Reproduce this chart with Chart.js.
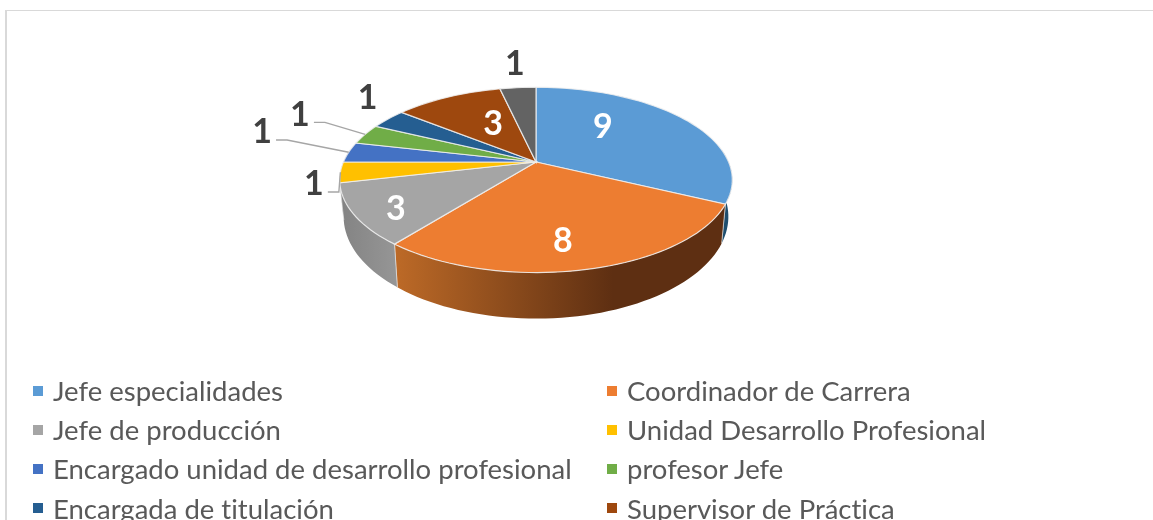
<!DOCTYPE html>
<html lang="es">
<head>
<meta charset="utf-8">
<title>Cargos</title>
<script src="https://cdn.jsdelivr.net/npm/chart.js@4"></script>
<style>
  html, body { margin: 0; padding: 0; background: #fff; width: 1153px; height: 520px; overflow: hidden; }
  #frame { position: absolute; left: 5px; top: 10px; right: 0; height: 520px; border-top: 1px solid #d9d9d9; border-left: 2px solid #d9d9d9; }
  #chart { position: absolute; left: 0; top: 0; }
  #legend { position: absolute; left: 33px; top: 371px; display: grid; grid-template-columns: 574px 500px; grid-auto-rows: 39.2px; }
  #legend div { display: flex; align-items: center; font: 27.5px Lato, sans-serif; font-variant-ligatures: none; color: #595959; white-space: nowrap; }
  #legend i { display: block; width: 10px; height: 10px; margin-right: 10px; flex: none; }
</style>
</head>
<body>
<div id="frame"></div>
<canvas id="chart" width="1153" height="520"></canvas>
<div id="legend"></div>
<script>
// the ninth legend row is cut off at the bottom of the picture, so its name is unknown
const categories = [
  'Jefe especialidades', 'Coordinador de Carrera', 'Jefe de producción',
  'Unidad Desarrollo Profesional', 'Encargado unidad de desarrollo profesional',
  'profesor Jefe', 'Encargada de titulación', 'Supervisor de Práctica', ''
];
const values = [9, 8, 3, 1, 1, 1, 1, 3, 1];
const colors = ['#5b9bd5', '#ed7d31', '#a5a5a5', '#ffc000', '#4472c4', '#70ad47', '#255e91', '#9e480e', '#636363'];
// the yellow side is only a sliver at the left edge and reads as grey in the reference
const sideColors = [['#1f4e6e', '#1f4e6e'], ['#bd6a27', '#5e2f12'], ['#838383', '#959595'], ['#838383', '#838383'],
  ['#294476', '#294476'], ['#43682b', '#43682b'], ['#163857', '#163857'], ['#5f2b08', '#5f2b08'], ['#3b3b3b', '#3b3b3b']];

// label placement: radius as a share of the pie, and angle shift from the slice middle (degrees)
const labelRadius = [0.586, 0.755, 0.811, 1.126, 1.57, 1.5, 1.334, 0.546, 1.43];
const labelShift = [-17.8, 3.8, -3.1, -5.1, 7.3, 4.7, 8, 5.6, 0.8];
const labelInside = [true, true, true, false, false, false, false, true, false];
const hasLeader = [false, false, false, true, true, true, false, false, false];

// tilted disc with perspective
const TILT = { a: 193.3 / 162, b: 89.5 / 162, k: 0.1935 };
const STEP = Math.PI / 90;

function project(arc, angle, r) {
  const u = Math.cos(angle) * r;
  const v = Math.sin(angle) * r;
  const w = 1 - TILT.k * v;
  return {
    x: arc.x + TILT.a * arc.outerRadius * u / w,
    y: arc.y + TILT.b * arc.outerRadius * v / w
  };
}

// same rim, lower down
function projectBottom(arc, angle) {
  const p = project(arc, angle, 1);
  return { x: arc.x + (p.x - arc.x) * 0.98, y: arc.y + (p.y - arc.y) * 1.1 + 35 };
}

function rimAngles(arc) {
  const list = [];
  for (let a = arc.startAngle; a < arc.endAngle; a += STEP) list.push(a);
  list.push(arc.endAngle);
  return list;
}

function drawSide(ctx, arc, i) {
  // only the front half can be seen
  const angles = rimAngles(arc).filter(a => Math.sin(a) > -0.15);
  if (angles.length < 2) return;
  const first = project(arc, angles[0], 1);
  const last = project(arc, angles[angles.length - 1], 1);
  const left = Math.min(first.x, last.x);
  const right = Math.max(first.x, last.x);
  const grad = ctx.createLinearGradient(left, 0, i === 1 ? 613 : right, 0);
  grad.addColorStop(0, sideColors[i][0]);
  grad.addColorStop(1, sideColors[i][1]);
  ctx.beginPath();
  angles.forEach((a, n) => {
    const p = project(arc, a, 1);
    if (n === 0) ctx.moveTo(p.x, p.y); else ctx.lineTo(p.x, p.y);
  });
  angles.slice().reverse().forEach(a => {
    const p = projectBottom(arc, a);
    ctx.lineTo(p.x, p.y);
  });
  ctx.closePath();
  ctx.fillStyle = grad;
  ctx.fill();
  ctx.strokeStyle = 'rgba(235,235,235,0.7)';
  ctx.lineWidth = 0.8;
  [angles[0], angles[angles.length - 1]].forEach(a => {
    const p = project(arc, a, 1);
    const q = projectBottom(arc, a);
    if (a === arc.startAngle || a === arc.endAngle) {
      ctx.beginPath();
      ctx.moveTo(p.x, p.y);
      ctx.lineTo(q.x, q.y);
      ctx.stroke();
    }
  });
}

function drawTop(ctx, arc) {
  ctx.beginPath();
  ctx.moveTo(arc.x, arc.y);
  rimAngles(arc).forEach(a => {
    const p = project(arc, a, 1);
    ctx.lineTo(p.x, p.y);
  });
  ctx.closePath();
  ctx.fillStyle = arc.options.backgroundColor;
  ctx.fill();
  ctx.strokeStyle = arc.options.borderColor;
  ctx.lineWidth = arc.options.borderWidth;
  ctx.stroke();
}

function drawLabel(ctx, arc, i) {
  const mid = (arc.startAngle + arc.endAngle) / 2;
  const pos = project(arc, mid + labelShift[i] * Math.PI / 180, labelRadius[i]);
  if (hasLeader[i]) {
    const rim = project(arc, mid, 1);
    ctx.beginPath();
    ctx.moveTo(pos.x + 14, pos.y + 9);
    ctx.lineTo(pos.x + 25, pos.y + 9);
    ctx.lineTo(rim.x, rim.y);
    ctx.strokeStyle = '#a6a6a6';
    ctx.lineWidth = 1.4;
    ctx.stroke();
  }
  ctx.font = 'bold 34px Lato, sans-serif';
  ctx.textAlign = 'center';
  ctx.textBaseline = 'middle';
  ctx.fillStyle = labelInside[i] ? '#ffffff' : '#404040';
  ctx.fillText(String(values[i]), pos.x, pos.y + 1.5);
}

const tiltedPie = {
  id: 'tiltedPie',
  beforeDatasetsDraw(chart) {
    const ctx = chart.ctx;
    const arcs = chart.getDatasetMeta(0).data;
    ctx.save();
    arcs.forEach((arc, i) => drawSide(ctx, arc, i));
    arcs.forEach(arc => drawTop(ctx, arc));
    arcs.forEach((arc, i) => drawLabel(ctx, arc, i));
    ctx.restore();
    return false;
  }
};

const chart = new Chart(document.getElementById('chart').getContext('2d'), {
  type: 'pie',
  data: {
    labels: categories,
    datasets: [{
      data: values,
      backgroundColor: colors,
      borderColor: 'rgba(240,240,240,0.85)',
      borderWidth: 1.2
    }]
  },
  options: {
    responsive: false,
    animation: false,
    layout: { padding: { right: 81, bottom: 196 } },
    plugins: {
      legend: { display: false },
      tooltip: { enabled: false }
    }
  },
  plugins: [tiltedPie]
});

const legend = document.getElementById('legend');
categories.forEach((name, i) => {
  if (!name) return;
  const row = document.createElement('div');
  const box = document.createElement('i');
  box.style.background = colors[i];
  row.appendChild(box);
  row.appendChild(document.createTextNode(name));
  legend.appendChild(row);
});
</script>
</body>
</html>
